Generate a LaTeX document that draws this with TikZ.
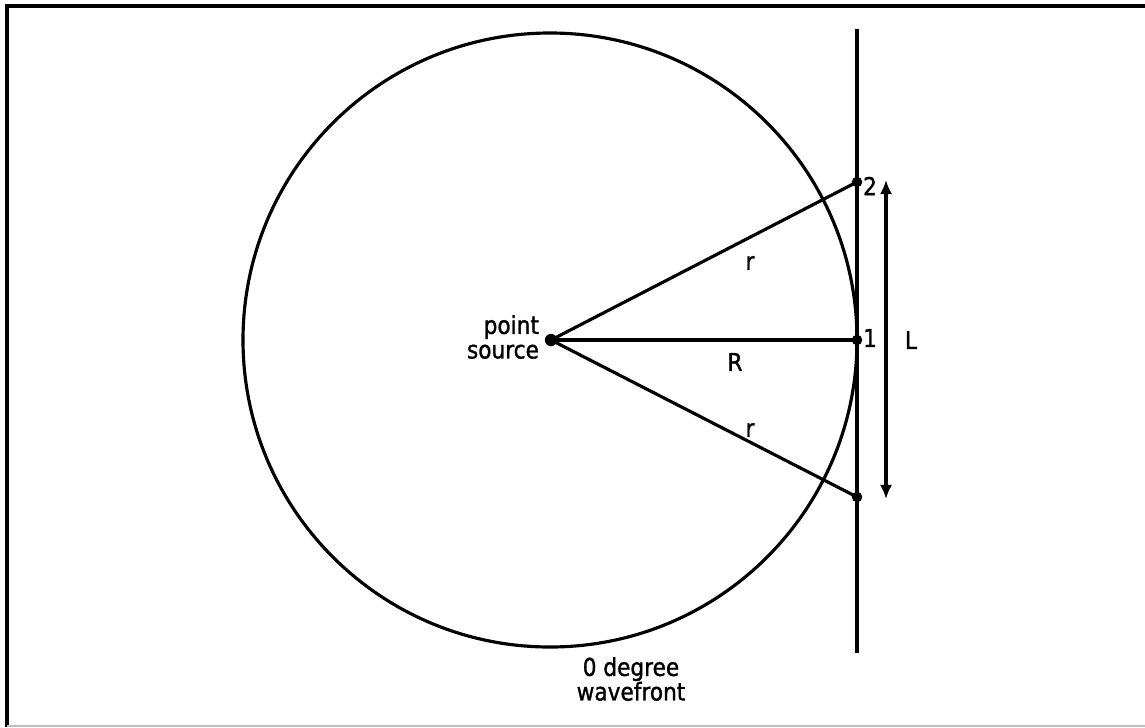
\documentclass[tikz,border=0pt]{standalone}
\usepackage{fontspec}
\setmainfont{DejaVu Sans}
\newfontfamily\plotfont[FakeStretch=0.88,FakeBold=1.2]{DejaVu Sans}
\usetikzlibrary{arrows.meta}
\begin{document}
\begin{tikzpicture}[x=0.02cm,y=0.02cm,
  ln/.style={line width=1.8pt},
  dot/.style={circle,fill=black,inner sep=0pt,minimum size=7pt},
  lbl/.style={font=\plotfont\fontsize{14}{14}\selectfont,inner sep=1pt},
  frame/.style={line width=2.4pt}]
\useasboundingbox (0,0) rectangle (1145,-727);
% frame
\draw[frame] (7,-727) -- (7,-6) -- (1145,-6);
\draw[line width=1pt,black!25] (7,-726) -- (1145,-726);
% wavefront line
\coordinate (wt) at (857,-29);
\coordinate (wb) at (857,-653);
\draw[ln] (wt) -- (wb);
% circle
\node[dot] (src) at (551,-340) {};
\draw[ln] (550,-340) circle[radius=307];
% points
\node[dot,minimum size=6pt] (p2) at (857,-182) {};
\node[dot,minimum size=6pt] (p1) at (857,-340) {};
\node[dot,minimum size=6pt] (p3) at (857,-497) {};
\draw[ln] (src.center) -- (p2.center);
\draw[ln] (src.center) -- (p1.center);
\draw[ln] (src.center) -- (p3.center);
% L arrow
\coordinate (at) at (886,-180);
\coordinate (ab) at (886,-499);
\draw[line width=2.6pt,{Latex[length=8pt,width=7pt]}-{Latex[length=8pt,width=7pt]}] (at) -- (ab);
% labels
\node[lbl,anchor=west] (l2) at (861,-186) {2};
\node[lbl,anchor=west] (l1) at (861,-338) {1};
\node[lbl] (lL) at (911,-340) {L};
\node[lbl] (lr1) at (750,-263) {r};
\node[lbl] (lR) at (735,-362) {R};
\node[lbl] (lr2) at (750,-430) {r};
\node[lbl,align=right,anchor=east] (lps) at (541,-337) {point\\source};
\node[lbl,align=center] (lw) at (631,-679) {0 degree\\wavefront};
\end{tikzpicture}
\end{document}
